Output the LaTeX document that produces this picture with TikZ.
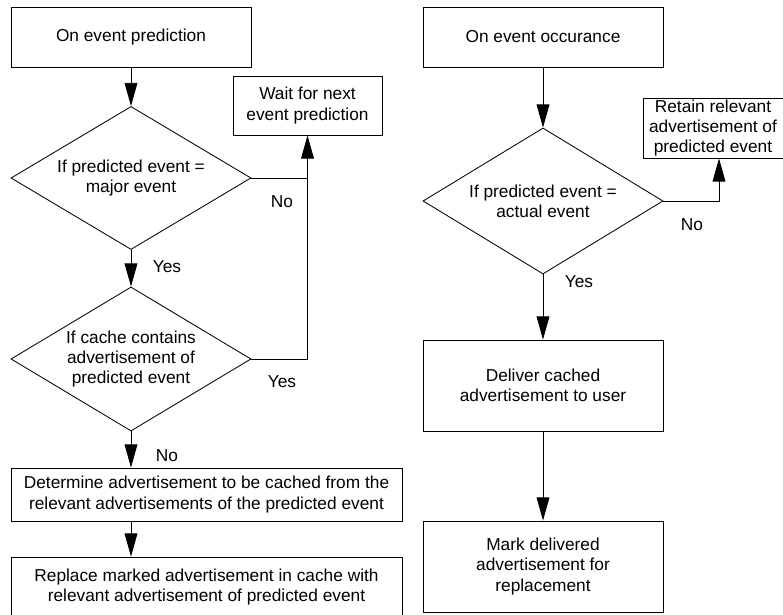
\documentclass[tikz,border=0pt]{standalone}
\usepackage{fontspec}
\setmainfont{Liberation Sans}
\usetikzlibrary{shapes.geometric,arrows.meta}

\begin{document}
\begin{tikzpicture}[x=0.025cm,y=-0.025cm,line width=0.6pt,
		box/.style={draw,rectangle,align=center,inner sep=0pt,font=\fontsize{12.3}{14.3}\selectfont},
		decision/.style={draw,diamond,aspect=1.68,align=center,inner sep=0pt,minimum width=6cm,font=\fontsize{12.3}{14.3}\selectfont},
		lbl/.style={font=\fontsize{12.3}{14.3}\selectfont},
		arr/.style={-{Triangle[length=0.58cm,width=0.32cm]}}]
			\useasboundingbox (0,0) rectangle (783,615);
			
			%%left side
			\node[box,minimum width=6cm,minimum height=1.5cm] (pred) at (131,37) {On event prediction};
			\node[box,minimum width=3.725cm,minimum height=1.475cm] (wait) at (307.5,105.5) {Wait for next\\event prediction};
			\node[decision,minimum height=3.575cm] (major) at (131,178) {If predicted event =\\major event};
			\node[decision,minimum height=3.6cm] (cache) at (131,359) {If cache contains\\advertisement of\\predicted event};
			\node[box,minimum width=9.775cm,minimum height=1.325cm] (determine) at (206.5,494.5) {Determine advertisement to be cached from the\\relevant advertisements of the predicted event};
			\node[box,minimum width=9.775cm,minimum height=1.5cm] (replace) at (206.5,587) {Replace marked advertisement in cache with\\relevant advertisement of predicted event};
			
			\draw[arr] (pred) -- (major);
			\draw[arr] (major) -- (cache);
			\draw[arr] (cache) -- (cache.south |- determine.north);
			\draw[arr] (cache.south |- determine.south) -- (cache.south |- replace.north);
			\draw (major.east) -- (major.east -| wait.south);
			\draw[arr] (cache.east) -| (wait.south);
			
			%%right side
			\node[box,minimum width=6cm,minimum height=1.5cm] (occur) at (543,37) {On event occurance};
			\node[decision,minimum height=3.65cm] (actual) at (543,201) {If predicted event =\\actual event};
			\node[box,minimum width=3.5cm,minimum height=1.5cm] (retain) at (713,128) {Retain relevant\\advertisement of\\predicted event};
			\node[box,minimum width=6cm,minimum height=2.275cm] (deliver) at (543,385.5) {Deliver cached\\advertisement to user};
			\node[box,minimum width=6cm,minimum height=2.275cm] (mark) at (543,566.5) {Mark delivered\\advertisement for\\replacement};
			\coordinate (turn) at (719,201);
			
			\draw[arr] (occur) -- (actual);
			\draw[arr] (actual) -- (deliver);
			\draw[arr] (deliver) -- (mark);
			\draw[arr] (actual.east) -- (turn) -- (turn |- retain.south);
			
			%%labels
			\foreach \x / \y / \t in {282/202/No, 167/267/Yes, 282/382/Yes, 167/456/No, 692/225/No, 579/282/Yes}
			{
				\node[lbl] at (\x,\y) {\t};
			}
		\end{tikzpicture}
\end{document}
